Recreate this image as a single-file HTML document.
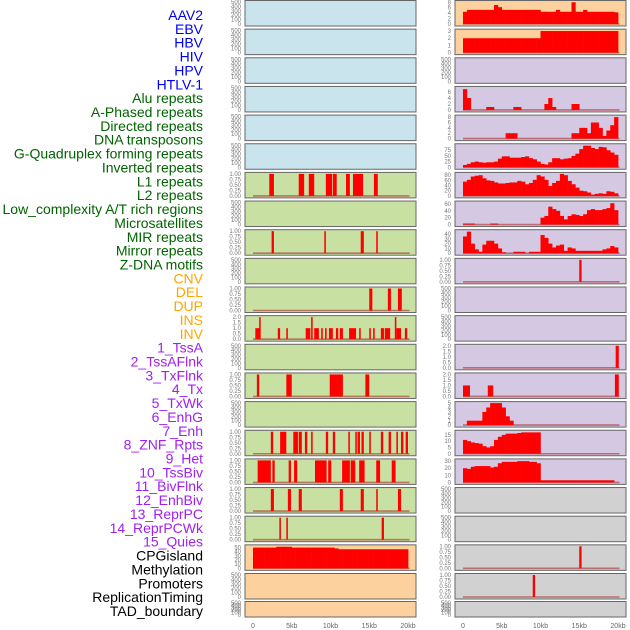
<!DOCTYPE html>
<html><head><meta charset="utf-8"><style>
html,body{margin:0;padding:0;background:#fff;width:630px;height:630px;overflow:hidden}
svg{display:block;font-family:"Liberation Sans",sans-serif}
</style></head><body>
<svg id="chart" width="630" height="630" viewBox="0 0 630 630"></svg>
<script>
const trackLabels=["AAV2","EBV","HBV","HIV","HPV","HTLV-1","Alu repeats","A-Phased repeats","Directed repeats","DNA transposons","G-Quadruplex forming repeats","Inverted repeats","L1 repeats","L2 repeats","Low_complexity A/T rich regions","Microsatellites","MIR repeats","Mirror repeats","Z-DNA motifs","CNV","DEL","DUP","INS","INV","1_TssA","2_TssAFlnk","3_TxFlnk","4_Tx","5_TxWk","6_EnhG","7_Enh","8_ZNF_Rpts","9_Het","10_TssBiv","11_BivFlnk","12_EnhBiv","13_ReprPC","14_ReprPCWk","15_Quies","CPGisland","Methylation","Promoters","ReplicationTiming","TAD_boundary"];
const labelGroups=[6,13,5,15,5];
const groupColors=["#0000ee","#006400","#ffa500","#a020f0","#000000"];
const xTicks=[0,5,10,15,20];
const xTickLabels=["0","5kb","10kb","15kb","20kb"];
const emptyTicks=[0,100,200,300,400,500];
const binTicks=[0,0.25,0.5,0.75,1];
// intervals [startKb,endKb,value]
const L1Ivals=[[2.1,2.7,1],[5.9,6.6,1],[7.2,7.9,1],[9.4,10.2,1],[10.3,10.8,1],[12.0,12.5,1],[12.9,14.2,1],[15.6,16.1,1]];
const MIRIvals=[[2.4,2.7,1],[9.2,9.4,1],[13.9,14.3,1],[15.9,16.1,1]];
const DELIvals=[[15.0,15.4,1],[17.4,17.8,1],[18.7,19.2,1]];
const INSIvals=[[0.3,0.9,1],[0.8,0.95,2],[3.2,3.5,1],[4.3,4.5,1],[6.8,7.4,1],[7.5,7.7,2],[7.9,8.5,1],[8.8,9.0,1],[9.3,9.5,1],[9.8,10.3,1],[10.7,11.0,1],[11.2,11.6,1],[12.4,13.3,1],[13.7,13.9,1],[15.0,15.2,1],[15.5,15.7,1],[16.5,16.9,1],[17.0,17.7,1],[18.3,18.5,2],[18.5,19.1,1],[19.6,19.9,1]];
const TxFlnkIvals=[[0.5,0.8,1],[4.3,5.0,1],[9.9,11.6,1],[14.5,15.0,1]];
const EnhIvals=[[2.3,2.6,1],[3.5,4.3,1],[5.2,5.8,1],[5.9,6.3,1],[6.7,7.0,1],[7.5,7.7,1],[9.4,9.7,1],[10.3,10.6,1],[12.3,12.5,1],[13.2,13.4,1],[13.5,13.8,1],[14.0,14.3,1],[15.0,15.2,1],[16.5,16.8,1],[17.5,17.8,1],[18.5,18.7,1],[19.1,19.4,1],[19.7,20.0,1]];
const HetIvals=[[0.6,2.3,1],[2.5,2.8,1],[4.6,4.9,1],[5.3,5.7,1],[8.0,9.5,1],[9.7,10.1,1],[11.5,12.5,1],[12.6,13.2,1],[13.7,14.4,1],[15.9,16.4,1],[17.9,18.4,1]];
const BivFlnkIvals=[[2.3,2.7,1],[4.5,4.9,1],[5.9,6.3,1],[11.2,11.6,1],[13.9,14.3,1],[15.9,16.1,1],[18.7,19.1,1]];
const ReprPCIvals=[[3.4,3.6,1],[4.3,4.5,1],[16.6,16.9,1]];
const CNVIvals=[[15.0,15.3,1]];
const TssAFlnkIvals=[[19.7,20.1,2]];
const TxIvals=[[0.0,0.9,1],[3.2,3.9,1],[19.6,20.1,2]];
const CpgIvals=[[15.0,15.3,1]];
const PromIvals=[[9.0,9.3,1]];
// 0.5kb bins
const EBVBins=[4.5,5.2,5.2,5.2,5.2,5.2,5.2,5.2,7,6.2,5.2,5.2,5.2,5.2,5.2,5.2,5.2,5.2,5.2,5.2,4.5,4.5,4.5,4.5,5.2,4.5,4.5,4.5,8,4.5,4.5,5.2,4.5,4.5,4.5,4.5,4.5,4.5,4.5,4.3];
const HIVBins=[2,2,2,2,2,2,2,2,2,2,2,2,2,2,2,2,2,2,2,2,3,3,3,3,3,3,3,3,3,3,3,3,3,3,3,3,3,3,3,3];
const APhasedBins=[7,4,0,0,0,0,1,1,0,0,0,0,0,1,1,0,0,0,0,0,0,2,4,1,0,0,0,0,2,2,0,0,0,0,0,0,0,0,0,0];
const DNATransBins=[0,0,0,0,0,0,0,0,0,0,0,2,2,2,0,0,0,0,0,0,0,0,0,0,0,0,0,0,2,2,4,4,2,6,6,4,1,3,5,8];
const InvertedBins=[10,15,22,25,22,20,22,22,25,38,48,48,42,42,42,45,48,40,35,25,15,12,22,40,40,35,38,40,50,60,80,95,95,85,80,90,88,75,65,55];
const L2Bins=[55,62,75,78,80,68,60,58,52,48,48,50,52,52,58,55,45,50,62,80,75,62,38,50,58,85,80,58,45,32,20,18,13,5,8,10,8,18,16,10];
const MicroBins=[3,3,3,0,0,0,0,3,3,0,0,0,0,0,0,0,0,0,0,0,20,25,52,45,40,25,15,25,30,28,25,30,42,45,42,42,45,48,62,42];
const MirrorBins=[35,45,20,8,3,18,26,26,20,10,2,0,0,3,3,3,0,3,3,3,38,32,20,12,16,18,5,12,10,5,5,5,5,5,5,5,8,10,15,12];
const EnhGBins=[0,1,1,1,1,3,4,5,5,5,4,2,1,0,0,0,0,0,0,0,0,0,0,0,0,0,0,0,0,0,0,0,0,0,0,0,0,0,0,0];
const ZNFBins=[11,10,9,8.5,8,6,5,6,11,13.5,15,16,16,16,16.5,17,17,17,17,17,0,0,0,0,0,0,0,0,0,0,0,0,0,0,0,0,0,0,0,0];
const TssBivBins=[20,19,22,23,23,23,23,21,22,27,29,29,29,29,30,30,30,29,29,27,3,3,3,3,3,3,3,3,3,3,3,3,3,3,3,3,3,3,3,0];
const QuiesBins=[50,50,50,50,50,50,52,52,52,52,50,50,50,50,50,50,50,50,50,50,50,48,46,46,46,46,46,46,46,46,46,46,46,46,46,46,46,46,46,46];

const BG={b:"#c9e4ec",g:"#c9e0a3",l:"#d5c8e2",o:"#fdd19e",y:"#d1d1d1"};
const E=(bg)=>({bg,type:"empty"});
const I=(bg,d,max,ticks,fmt)=>({bg,type:"ivals",d,max,ticks,fmt});
const B=(bg,d,max,ticks,fmt)=>({bg,type:"bins",d,max,ticks,fmt});
const f2=v=>v.toFixed(2), f1=v=>v.toFixed(1), f0=v=>String(v);
const rows=[
 [E(BG.b),B(BG.o,EBVBins,8.1,[0,2,4,6,8],f0)],
 [E(BG.b),B(BG.o,HIVBins,3.05,[0,1,2,3],f0)],
 [E(BG.b),E(BG.l)],
 [E(BG.b),B(BG.l,APhasedBins,7.4,[0,2,4,6],f0)],
 [E(BG.b),B(BG.l,DNATransBins,8.2,[0,2,4,6,8],f0)],
 [E(BG.b),B(BG.l,InvertedBins,97,[0,25,50,75],f0)],
 [I(BG.g,L1Ivals,1,binTicks,f2),B(BG.l,L2Bins,85,[0,20,40,60,80],f0)],
 [E(BG.g),B(BG.l,MicroBins,64,[0,20,40,60],f0)],
 [I(BG.g,MIRIvals,1,binTicks,f2),B(BG.l,MirrorBins,46,[0,10,20,30,40],f0)],
 [E(BG.g),I(BG.l,CNVIvals,1,binTicks,f2)],
 [I(BG.g,DELIvals,1,binTicks,f2),E(BG.l)],
 [I(BG.g,INSIvals,2,[0,0.5,1,1.5,2],f1),E(BG.l)],
 [E(BG.g),I(BG.l,TssAFlnkIvals,2,[0,0.5,1,1.5,2],f1)],
 [I(BG.g,TxFlnkIvals,1,binTicks,f2),I(BG.l,TxIvals,2,[0,0.5,1,1.5,2],f1)],
 [E(BG.g),B(BG.l,EnhGBins,5,[0,1,2,3,4,5],f0)],
 [I(BG.g,EnhIvals,1,binTicks,f2),B(BG.l,ZNFBins,17.5,[0,5,10,15],f0)],
 [I(BG.g,HetIvals,1,binTicks,f2),B(BG.l,TssBivBins,31,[0,10,20,30],f0)],
 [I(BG.g,BivFlnkIvals,1,binTicks,f2),E(BG.y)],
 [I(BG.g,ReprPCIvals,1,binTicks,f2),E(BG.y)],
 [B(BG.o,QuiesBins,53,[0,10,20,30,40,50],f0),I(BG.y,CpgIvals,1,binTicks,f2)],
 [E(BG.o),I(BG.y,PromIvals,1,binTicks,f2)],
 [E(BG.o),E(BG.y)]
];
const NS="http://www.w3.org/2000/svg";
const svg=document.getElementById("chart");
function mk(tag,attrs,parent){const e=document.createElementNS(NS,tag);for(const k in attrs)e.setAttribute(k,attrs[k]);(parent||svg).appendChild(e);return e;}

// labels
let li=0;
labelGroups.forEach((n,g)=>{for(let k=0;k<n;k++){
 const t=mk("text",{x:203,y:15+li*13.86+5,"text-anchor":"end","font-size":"14",fill:groupColors[g]});
 t.textContent=trackLabels[li];
 
 
 li++;}});

const cols=[{x:245,x0:253,tx:241},{x:455,x0:463,tx:451}];
const PW=171, KB=7.75;
rows.forEach((row,r)=>{
 const top=r<21? r*28.65+0.5 : 601.5;
 const h=r<21?25.5:15.5;
 row.forEach((p,c)=>{
  const col=cols[c];
  const xs=kb=>col.x0+kb*KB;
  const g=mk("g",{});
  
  
  mk("rect",{x:col.x,y:top,width:PW,height:h,fill:p.bg,stroke:"#666","stroke-width":1},g);
  const bot=top+h-2, span=h-3.5;
  let max=p.type==="empty"?500:p.max;
  const ys=v=>bot-v/max*span;
  const ticks=p.type==="empty"?emptyTicks:p.ticks;
  const fmt=p.type==="empty"?f0:p.fmt;
  ticks.forEach(v=>{
   const t=mk("text",{x:col.tx,y:ys(v)+2,"text-anchor":"end","font-size":"6",fill:"#777"},g);
   t.textContent=fmt(v);
   
   
  });
  if(p.type==="empty")return;
  mk("line",{x1:xs(0),x2:xs(20.2),y1:bot,y2:bot,stroke:"rgba(170,30,30,0.55)","stroke-width":1.6},g);
  if(p.type==="ivals"){
   p.d.forEach(iv=>{
    const b=mk("rect",{x:xs(iv[0]),y:ys(iv[2]),width:Math.max(1.5,(iv[1]-iv[0])*KB),height:bot-ys(iv[2]),fill:"#ff0000"},g);
    
    
   });
  } else {
   p.d.forEach((v,i)=>{
    if(v<=0)return;
    const w=(i===p.d.length-1)?0.55*KB:0.5*KB+0.3;
    const b=mk("rect",{x:xs(i*0.5),y:ys(v),width:w,height:bot-ys(v),fill:"#ff0000"},g);
    
    
   });
  }
 });
});
// x axes
cols.forEach(col=>{
 xTicks.forEach((v,i)=>{
  const t=mk("text",{x:col.x0+v*KB,y:628,"text-anchor":"middle","font-size":"7",fill:"#666"});
  t.textContent=xTickLabels[i];
  
  
 });
});
</script>
</body></html>
